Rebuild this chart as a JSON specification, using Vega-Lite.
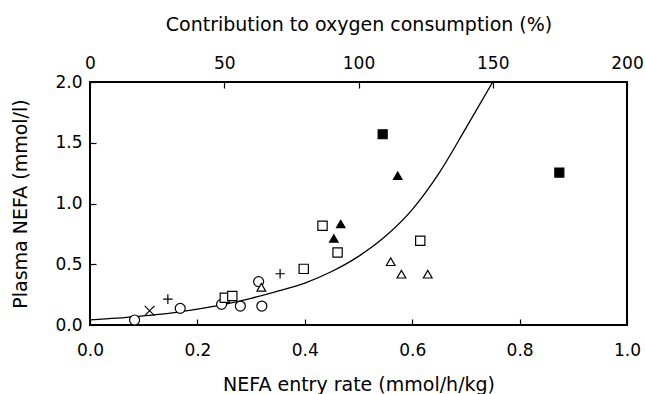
{
  "$schema": "https://vega.github.io/schema/vega-lite/v6.json",
  "width": 537,
  "height": 243,
  "autosize": "none",
  "padding": {"left": 90, "top": 82, "right": 18, "bottom": 69},
  "background": "white",
  "config": {
    "view": {"stroke": "black", "strokeWidth": 2},
    "font": "DejaVu Sans",
    "axis": {
      "grid": false,
      "domain": false,
      "tickColor": "black",
      "tickSize": -6,
      "tickWidth": 1.2,
      "labelColor": "black",
      "titleColor": "black",
      "labelFont": "DejaVu Sans",
      "titleFont": "DejaVu Sans",
      "labelFontSize": 17,
      "titleFontSize": 19,
      "titleFontWeight": "normal"
    }
  },
  "datasets": {
    "curve": [
      {"rate": 0.0, "nefa": 0.042},
      {"rate": 0.05, "nefa": 0.056},
      {"rate": 0.1, "nefa": 0.075},
      {"rate": 0.15, "nefa": 0.097},
      {"rate": 0.2, "nefa": 0.13},
      {"rate": 0.25, "nefa": 0.17},
      {"rate": 0.3, "nefa": 0.22},
      {"rate": 0.35, "nefa": 0.28},
      {"rate": 0.4, "nefa": 0.345},
      {"rate": 0.45, "nefa": 0.44},
      {"rate": 0.5, "nefa": 0.565},
      {"rate": 0.55, "nefa": 0.73},
      {"rate": 0.6, "nefa": 0.95},
      {"rate": 0.65, "nefa": 1.25},
      {"rate": 0.7, "nefa": 1.62},
      {"rate": 0.75, "nefa": 2.0}
    ],
    "points": [
      {"rate": 0.083, "nefa": 0.041, "group": "open circle"},
      {"rate": 0.168, "nefa": 0.137, "group": "open circle"},
      {"rate": 0.245, "nefa": 0.17, "group": "open circle"},
      {"rate": 0.28, "nefa": 0.156, "group": "open circle"},
      {"rate": 0.314, "nefa": 0.357, "group": "open circle"},
      {"rate": 0.32, "nefa": 0.156, "group": "open circle"},
      {"rate": 0.111, "nefa": 0.117, "group": "cross"},
      {"rate": 0.145, "nefa": 0.213, "group": "plus"},
      {"rate": 0.354, "nefa": 0.422, "group": "plus"},
      {"rate": 0.251, "nefa": 0.225, "group": "open square"},
      {"rate": 0.265, "nefa": 0.238, "group": "open square"},
      {"rate": 0.398, "nefa": 0.462, "group": "open square"},
      {"rate": 0.433, "nefa": 0.817, "group": "open square"},
      {"rate": 0.461, "nefa": 0.597, "group": "open square"},
      {"rate": 0.615, "nefa": 0.694, "group": "open square"},
      {"rate": 0.545, "nefa": 1.57, "group": "filled square"},
      {"rate": 0.874, "nefa": 1.254, "group": "filled square"},
      {"rate": 0.319, "nefa": 0.31, "group": "open triangle"},
      {"rate": 0.56, "nefa": 0.521, "group": "open triangle"},
      {"rate": 0.58, "nefa": 0.418, "group": "open triangle"},
      {"rate": 0.629, "nefa": 0.418, "group": "open triangle"},
      {"rate": 0.454, "nefa": 0.713, "group": "filled triangle"},
      {"rate": 0.467, "nefa": 0.831, "group": "filled triangle"},
      {"rate": 0.573, "nefa": 1.229, "group": "filled triangle"}
    ],
    "topaxis": [
      {"pct": 0},
      {"pct": 200}
    ]
  },
  "layer": [
    {
      "layer": [
        {
          "data": {"name": "curve"},
          "mark": {"type": "line", "color": "black", "strokeWidth": 1.3, "interpolate": "monotone", "clip": true},
          "encoding": {
            "x": {
              "field": "rate", "type": "quantitative",
              "scale": {"domain": [0, 1], "nice": false},
              "axis": {
                "orient": "bottom",
                "values": [0, 0.2, 0.4, 0.6, 0.8, 1.0],
                "format": ".1f",
                "labelPadding": 23,
                "labelFlush": false,
                "title": "NEFA entry rate (mmol/h/kg)",
                "titlePadding": 17
              }
            },
            "y": {
              "field": "nefa", "type": "quantitative",
              "scale": {"domain": [0, 2], "nice": false},
              "axis": {
                "orient": "left",
                "values": [0, 0.5, 1.0, 1.5, 2.0],
                "format": ".1f",
                "labelPadding": 14,
                "labelFlush": false,
                "title": "Plasma NEFA (mmol/l)",
                "titlePadding": 24
              }
            }
          }
        },
        {
          "data": {"name": "points"},
          "mark": {"type": "point", "stroke": "black", "strokeWidth": 1.2, "opacity": 1, "filled": false},
          "encoding": {
            "x": {"field": "rate", "type": "quantitative"},
            "y": {"field": "nefa", "type": "quantitative"},
            "shape": {
              "field": "group", "type": "nominal", "legend": null,
              "scale": {
                "domain": ["open circle", "cross", "plus", "open square", "filled square", "open triangle", "filled triangle"],
                "range": ["circle", "M-1,-1L1,1M-1,1L1,-1", "M-1,0L1,0M0,-1L0,1", "square", "square", "triangle-up", "triangle-up"]
              }
            },
            "fill": {
              "field": "group", "type": "nominal", "legend": null,
              "scale": {
                "domain": ["open circle", "cross", "plus", "open square", "filled square", "open triangle", "filled triangle"],
                "range": ["white", "none", "none", "white", "black", "white", "black"]
              }
            },
            "size": {
              "field": "group", "type": "nominal", "legend": null,
              "scale": {
                "domain": ["open circle", "cross", "plus", "open square", "filled square", "open triangle", "filled triangle"],
                "range": [100, 72, 72, 90, 110, 150, 160]
              }
            }
          }
        }
      ]
    },
    {
      "data": {"name": "topaxis"},
      "mark": {"type": "point", "opacity": 0},
      "encoding": {
        "x": {
          "field": "pct", "type": "quantitative",
          "scale": {"domain": [0, 200], "nice": false},
          "axis": {
            "orient": "top",
            "values": [0, 50, 100, 150, 200],
            "labelPadding": 16,
            "labelFlush": false,
            "title": "Contribution to oxygen consumption (%)",
            "titlePadding": 20
          }
        }
      }
    }
  ],
  "resolve": {"scale": {"x": "independent"}}
}
